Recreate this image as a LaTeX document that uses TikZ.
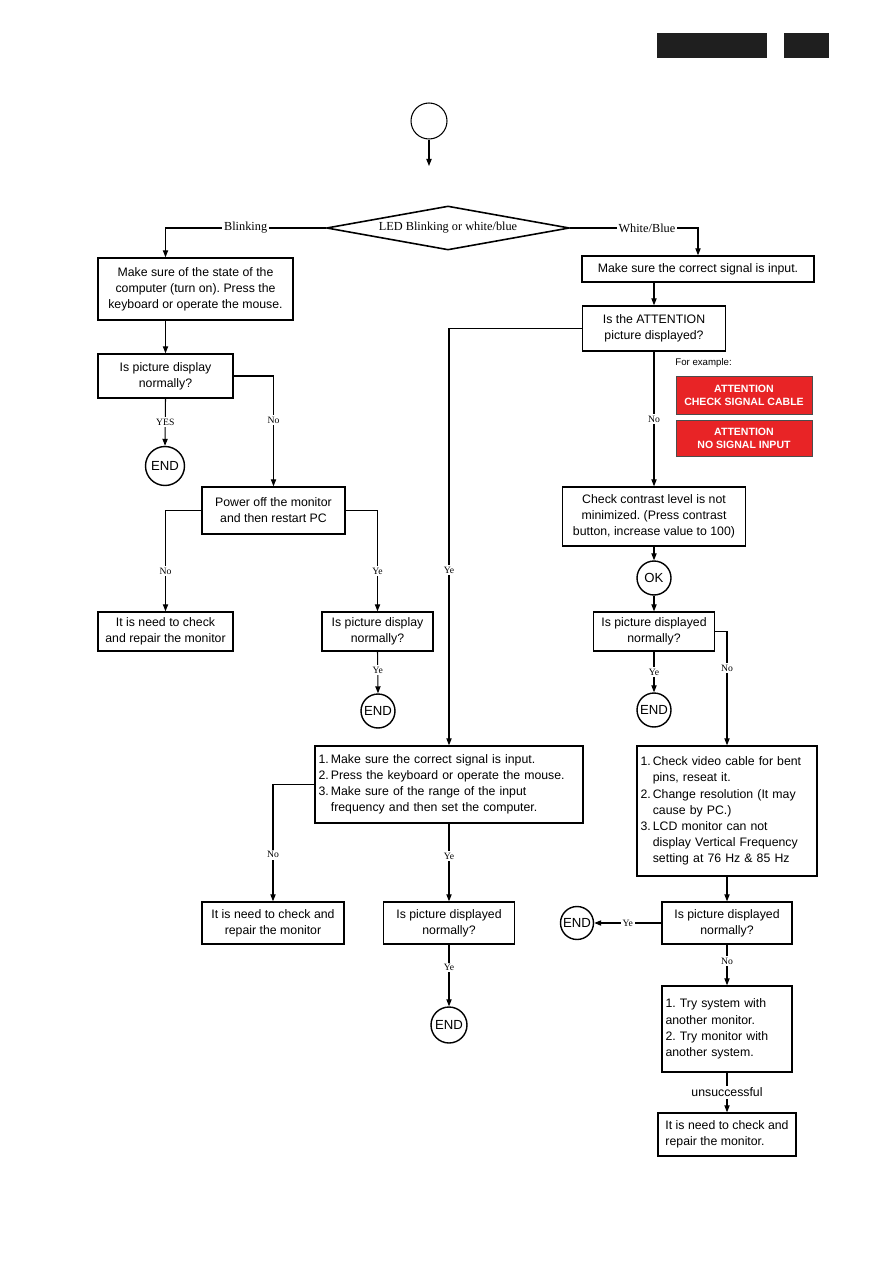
\documentclass[tikz,border=0pt]{standalone}
\usepackage{fontspec}
\setmainfont{Liberation Serif}
\setsansfont{Liberation Sans}
\usetikzlibrary{arrows.meta,shapes.geometric}
\definecolor{warnred}{RGB}{232,36,38}
\frenchspacing

\begin{document}
\begin{tikzpicture}[x=0.02cm, y=-0.02cm,
    box/.style={draw, line width=0.8pt, align=center, inner sep=2pt, font=\sffamily\fontsize{7}{9.2}\selectfont},
    endc/.style={draw, circle, line width=0.8pt, minimum size=0.68cm, inner sep=0pt, font=\sffamily\fontsize{7.5}{9}\selectfont},
    warn/.style={draw=black!70, fill=warnred, text=white, align=center, inner sep=1pt, font=\sffamily\bfseries\fontsize{6}{7.5}\selectfont},
    lbl/.style={fill=white, inner sep=1pt, font=\rmfamily\fontsize{5.5}{6}\selectfont},
    arr/.style={-{Triangle[length=4pt,width=3pt]}, line width=0.6pt}
]
\useasboundingbox (0,0) rectangle (893,1263);

\node[fill=black!88, minimum width=2.2cm, minimum height=0.5cm, inner sep=0pt] (hdr1) at (712,45.5) {};
\node[fill=black!88, minimum width=0.9cm, minimum height=0.5cm, inner sep=0pt] (hdr2) at (806.5,45.5) {};

\node[draw, circle, minimum size=0.72cm, inner sep=0pt, line width=0.6pt] (start) at (429,121) {};
\coordinate (go) at (429,166);
\draw[arr] (start) -- (go);

\node[draw, diamond, aspect=5.5, minimum width=4.86cm, minimum height=0.88cm, inner sep=0pt, line width=0.9pt, font=\rmfamily\fontsize{7}{8}\selectfont] (dia) at (448,228) {LED Blinking or white/blue};

% blinking side
\node[box, minimum width=3.9cm, minimum height=1.24cm] (mk) at (195.5,289) {Make sure of the state of the\\computer (turn on). Press the\\keyboard or operate the mouse.};
\node[box, minimum width=2.7cm, minimum height=0.88cm] (disp1) at (165.5,376) {Is picture display\\normally?};
\node[endc, minimum size=0.78cm] (end1) at (165,466) {END};
\node[box, minimum width=2.86cm, minimum height=0.94cm] (pwr) at (273.5,510.5) {Power off the monitor\\and then restart PC};
\node[box, minimum width=2.7cm, minimum height=0.78cm] (rep1) at (165.5,631.5) {It is need to check\\and repair the monitor};
\node[box, minimum width=2.22cm, minimum height=0.78cm] (disp2) at (377.5,631.5) {Is picture display\\normally?};
\node[endc] (end2) at (378,711) {END};

% white/blue side
\node[box, minimum width=4.64cm, minimum height=0.52cm] (sig) at (698,269) {Make sure the correct signal is input.};
\node[box, minimum width=2.86cm, minimum height=0.9cm] (att) at (654,328.5) {Is the ATTENTION\\picture displayed?};
\node[anchor=west, inner sep=0pt, font=\sffamily\fontsize{5.5}{6}\selectfont] (forex) at (675,363) {For example:};
\node[warn, minimum width=2.72cm, minimum height=0.76cm] (att1) at (744,395) {ATTENTION\\CHECK SIGNAL CABLE};
\node[warn, minimum width=2.72cm, minimum height=0.72cm] (att2) at (744,438) {ATTENTION\\NO SIGNAL INPUT};
\node[box, minimum width=3.66cm, minimum height=1.18cm] (con) at (654,516.5) {Check contrast level is not\\minimized. (Press contrast\\button, increase value to 100)};
\node[endc] (ok) at (654,578) {OK};
\node[box, minimum width=2.42cm, minimum height=0.78cm] (disp3) at (654,631.5) {Is picture displayed\\normally?};
\node[endc] (end3) at (654,710) {END};
\node[box, text width=3.6cm-4pt, minimum height=2.6cm, align=left] (cab) at (727,811) {\begin{tabular}{@{}l@{\,}l@{}}1. & Check video cable for bent\\ & pins, reseat it.\\2. & Change resolution (It may\\ & cause by PC.)\\3. & LCD monitor can not\\ & display Vertical Frequency\\ & setting at 76 Hz \& 85 Hz\end{tabular}};
\node[box, minimum width=2.6cm, minimum height=0.84cm] (disp4) at (727,923) {Is picture displayed\\normally?};
\node[endc, minimum size=0.66cm] (end4) at (577,923) {END};
\node[box, text width=2.6cm-4pt, minimum height=1.72cm, align=left] (try) at (727,1029) {1. Try system with\\another monitor.\\2. Try monitor with\\another system.};
\node[box, minimum width=2.76cm, minimum height=0.86cm, align=left, inner sep=1pt] (rep3) at (727,1134.5) {It is need to check and\\repair the monitor.};

% middle branch
\node[box, text width=5.36cm-4pt, minimum height=1.54cm, align=left] (chk) at (449,784.5) {\begin{tabular}{@{}l@{\,}l@{}}1. & Make sure the correct signal is input.\\2. & Press the keyboard or operate the mouse.\\3. & Make sure of the range of the input\\ & frequency and then set the computer.\end{tabular}};
\node[box, minimum width=2.84cm, minimum height=0.84cm] (rep2) at (273,923) {It is need to check and\\repair the monitor};
\node[box, minimum width=2.62cm, minimum height=0.84cm] (disp5) at (449,923) {Is picture displayed\\normally?};
\node[endc, minimum size=0.72cm] (end5) at (449,1025) {END};

\draw[arr] (dia.west) -| node[lbl, pos=0.25, font=\rmfamily\fontsize{7}{8}\selectfont] {Blinking} (mk.north -| disp1);
\draw[arr] (dia.east) -| node[lbl, pos=0.3, font=\rmfamily\fontsize{7}{8}\selectfont] {White/Blue} (sig.north);
\draw[arr] (mk.south -| disp1) -- (disp1.north);
\draw[arr] (disp1.south) -- node[lbl] {YES} (end1.north);
\draw[arr] (disp1.east) -| node[lbl, pos=0.7] {No} (pwr.north);
\draw[arr] (pwr.west) -| node[lbl, pos=0.8] {No} (rep1.north);
\draw[arr] (pwr.east) -| node[lbl, pos=0.8] {Ye} (disp2.north);
\draw[arr] (disp2.south) -- node[lbl, pos=0.45] {Ye} (end2.north);
\draw[arr] (sig.south -| att) -- (att.north);
\draw[arr] (att.west) -| node[lbl, pos=0.79] {Ye} (chk.north);
\draw[arr] (att.south) -- node[lbl] {No} (con.north);
\draw[arr] (con.south) -- (ok.north);
\draw[arr] (ok.south) -- (disp3.north);
\draw[arr] (disp3.south) -- node[lbl] {Ye} (end3.north);
\draw[arr] (disp3.east) -| node[lbl, pos=0.66] {No} (cab.north);
\draw[arr] (cab.south) -- (disp4.north);
\draw[arr] (disp4.west) -- node[lbl] {Ye} (end4.east);
\draw[arr] (disp4.south) -- node[lbl, pos=0.4] {No} (try.north);
\draw[arr] (try.south) -- node[lbl, font=\sffamily\fontsize{7}{8}\selectfont] {unsuccessful} (rep3.north);
\draw[arr] (chk.west) -| node[lbl, pos=0.8] {No} (rep2.north);
\draw[arr] (chk.south) -- node[lbl, pos=0.42] {Ye} (disp5.north);
\draw[arr] (disp5.south) -- node[lbl, pos=0.37] {Ye} (end5.north);
\end{tikzpicture}
\end{document}
